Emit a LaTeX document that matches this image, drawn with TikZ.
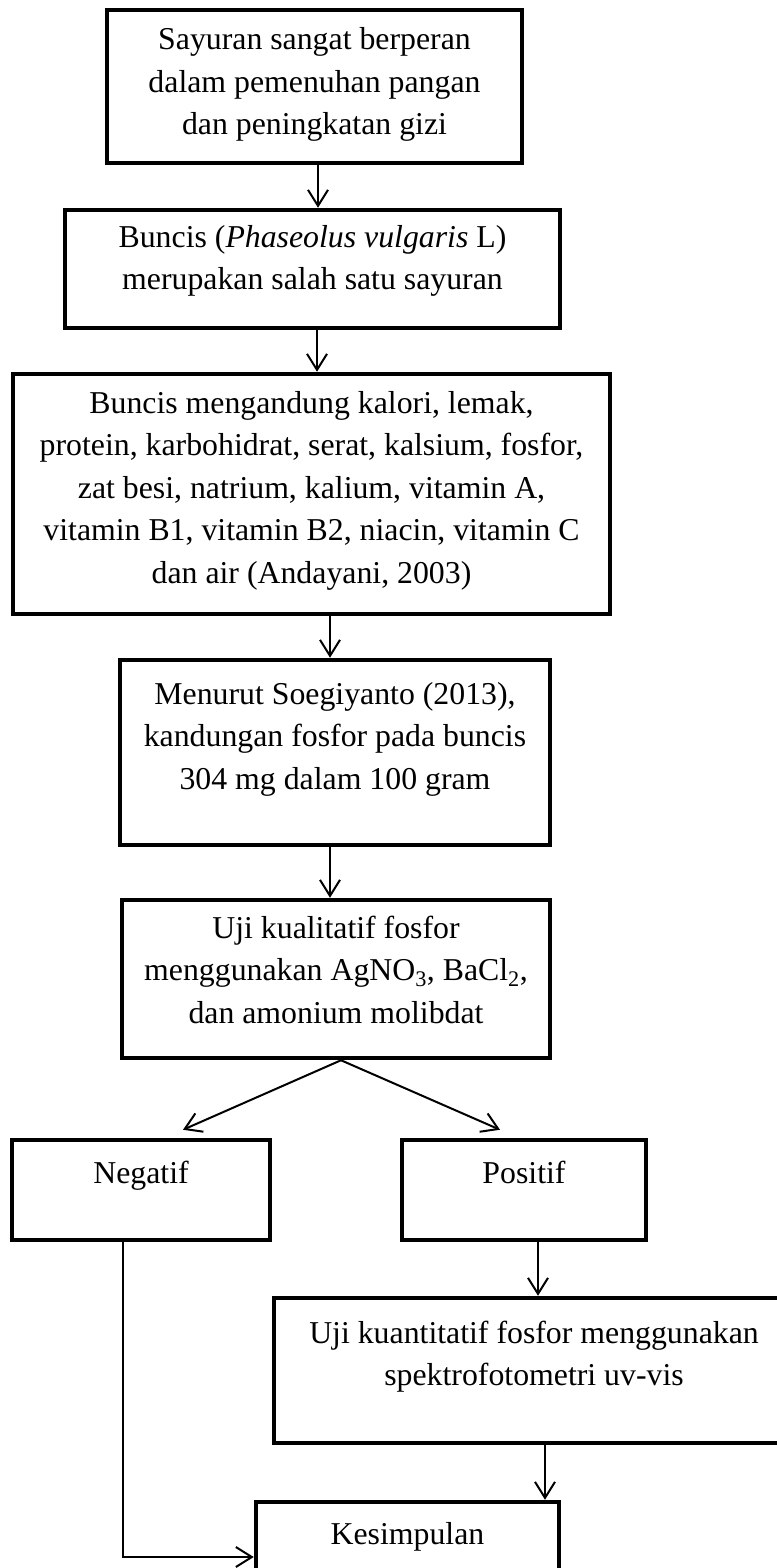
\documentclass[tikz,border=0pt]{standalone}
\usepackage{fontspec}
\setmainfont{Liberation Serif}
\usepackage{tikz}
\usetikzlibrary{positioning,arrows.meta}

\begin{document}
\begin{tikzpicture}[x=1pt, y=-1pt,
  font=\fontsize{31.8pt}{42.5pt}\selectfont,
  box/.style={draw, line width=4.5pt, align=center, inner sep=0pt},
  arr/.style={-{Straight Barb[length=16pt,width=20pt]}, line width=2pt}]
\useasboundingbox (0,0) rectangle (776,1568);

\node[box, minimum width=415pt, minimum height=153pt, text height=107pt,  text depth=10pt]   (sayur)      at (314.5, 86.5) {Sayuran sangat berperan\\dalam pemenuhan pangan\\dan peningkatan gizi};
\node[box, minimum width=495pt, minimum height=118pt, text height=64.5pt, text depth=23.5pt] (buncis)     at (312.5, 269)  {Buncis (\textit{Phaseolus vulgaris} L)\\merupakan salah satu sayuran};
\node[box, minimum width=597pt, minimum height=240pt, text height=192pt,  text depth=14pt]   (kandungan)  at (311.5, 494)  {Buncis mengandung kalori, lemak,\\protein, karbohidrat, serat, kalsium, fosfor,\\zat besi, natrium, kalium, vitamin A,\\vitamin B1, vitamin B2, niacin, vitamin C\\dan air (Andayani, 2003)};
\node[box, minimum width=430pt, minimum height=185pt, text height=107pt,  text depth=34pt]   (fosfor)     at (335, 752.5)  {Menurut Soegiyanto (2013),\\kandungan fosfor pada buncis\\304 mg dalam 100 gram};
\node[box, minimum width=428pt, minimum height=158pt, text height=107pt,  text depth=19pt]   (kualitatif) at (336, 979)    {Uji kualitatif fosfor\\menggunakan AgNO\textsubscript{3}, BaCl\textsubscript{2},\\dan amonium molibdat};

\node[box, minimum width=258pt, minimum height=100pt, text height=22pt,   text depth=36pt]   (neg)  at (141, 1190)     {Negatif};
\node[box, minimum width=244pt, minimum height=100pt, text height=22pt,   text depth=36pt]   (pos)  at (524, 1190)     {Positif};
\node[box, minimum width=520pt, minimum height=145pt, text height=64.5pt, text depth=34.5pt] (kuan) at (534, 1370.5)   {Uji kuantitatif fosfor menggunakan\\spektrofotometri uv-vis};
\node[box, minimum width=303pt, minimum height=69pt,  text height=22pt,   text depth=7pt]    (kes)  at (407.5, 1536.5) {Kesimpulan};

% alur utama
\draw[arr] ([xshift=3.5pt]sayur.south) -- ([xshift=3.5pt]sayur.south |- buncis.north);
\draw[arr] ([xshift=4.5pt]buncis.south) -- ([xshift=4.5pt]buncis.south |- kandungan.north);
\draw[arr] ([xshift=-5pt]fosfor.north |- kandungan.south) -- ([xshift=-5pt]fosfor.north);
\draw[arr] ([xshift=-5pt]fosfor.south) -- ([xshift=-5pt]fosfor.south |- kualitatif.north);

% cabang hasil uji
\coordinate (tipneg) at ([xshift=42pt,yshift=8pt]neg.north);
\coordinate (tippos) at ([xshift=-24pt,yshift=8pt]pos.north);
\draw[arr] ([xshift=5pt]kualitatif.south) -- (tipneg);
\draw[arr] ([xshift=5pt]kualitatif.south) -- (tippos);

\draw[arr] ([xshift=14pt]pos.south) -- ([xshift=14pt]pos.south |- kuan.north);
\draw[arr] ([xshift=137.5pt]kes.north |- kuan.south) -- ([xshift=137.5pt]kes.north);
\draw[arr] ([xshift=-18pt]neg.south) |- ([yshift=-20.5pt]kes.west);
\end{tikzpicture}
\end{document}
